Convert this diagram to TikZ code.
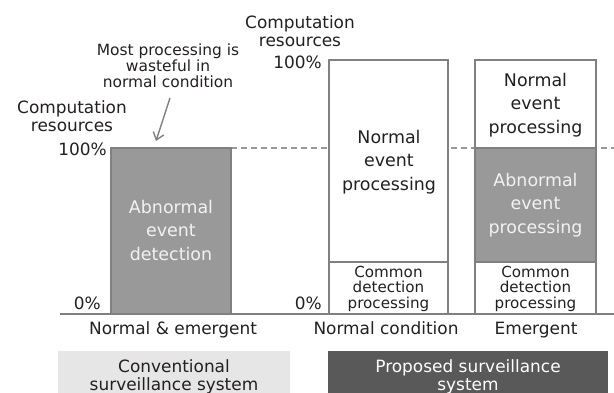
\documentclass[tikz,border=0pt]{standalone}
\usepackage{fontspec}
\setmainfont{DejaVu Sans}
\usetikzlibrary{arrows.meta}
\definecolor{barline}{HTML}{808080}
\definecolor{barfill}{HTML}{999999}
\definecolor{bartext}{HTML}{F2F2F2}
\definecolor{txt}{HTML}{231F20}
\definecolor{convfill}{HTML}{E6E6E6}
\definecolor{propfill}{HTML}{595959}
\definecolor{dashcol}{HTML}{999999}
\begin{document}
\begin{tikzpicture}[x=1bp,y=-1bp,
  lbl/.style={inner sep=0pt,anchor=base,align=center,text=txt,font=\fontsize{17}{18}\selectfont},
  small/.style={inner sep=0pt,anchor=base,align=center,text=txt,font=\fontsize{15.5}{16}\selectfont},
  intext/.style={inner sep=0pt,anchor=base,align=center,font=\fontsize{17.5}{23.5}\selectfont},
  common/.style={inner sep=0pt,anchor=base,align=center,text=txt,font=\fontsize{15.2}{15.5}\selectfont},
  barbox/.style={draw=barline,line width=2.2bp},
  dashline/.style={draw=dashcol,line width=1.3bp,dash pattern=on 6bp off 4bp},
  axis/.style={draw=barline,line width=2.5bp},
  pointer/.style={draw=barline,line width=1.4bp,-{Straight Barb[length=7bp,width=11bp]}}
]
\useasboundingbox (0,0) rectangle (614,392);

% dashed 100% reference line
\draw[dashline] (231,148) -- (614,148);

% conventional bar
\draw[barbox,fill=barfill] (111,148) rectangle (231,314);
% proposed, normal condition
\draw[barbox,fill=white] (329,60) rectangle (448,262);
\draw[barbox,fill=white] (329,262) rectangle (448,314);
% proposed, emergent
\draw[barbox,fill=white] (475,60) rectangle (596,148);
\draw[barbox,fill=barfill] (475,148) rectangle (596,262);
\draw[barbox,fill=white] (475,262) rectangle (596,314);

% axis
\draw[axis] (60,314) -- (614,314);

% left axis labels
\node[lbl] (cr1) at (72,131) {Computation\\resources};
\node[lbl,anchor=base east] (p100a) at (107,155) {100\%};
\node[lbl,anchor=base east] (p0a) at (101,309) {0\%};
% middle axis labels
\node[lbl] (cr2) at (300,46) {Computation\\resources};
\node[lbl,anchor=base east] (p100b) at (322,68) {100\%};
\node[lbl,anchor=base east] (p0b) at (322,309) {0\%};

% annotation
\node[small] (note) at (168,87) {Most processing is\\wasteful in\\normal condition};
\coordinate (arrS) at (170,98);
\coordinate (arrE) at (156,141);
\draw[pointer] (arrS) -- (arrE);

% bar texts
\node[intext,text=bartext] (abn1) at (171,260) {Abnormal\\event\\detection};
\node[intext,text=txt] (nep1) at (389,190) {Normal\\event\\processing};
\node[common] (cdp1) at (388.5,308) {Common\\detection\\processing};
\node[intext,text=txt] (nep2) at (535.5,133) {Normal\\event\\processing};
\node[intext,text=bartext] (aep2) at (535.5,233) {Abnormal\\event\\processing};
\node[common] (cdp2) at (535.5,308) {Common\\detection\\processing};

% condition labels
\node[lbl] (c1) at (173,334) {Normal \& emergent};
\node[lbl] (c2) at (386,334) {Normal condition};
\node[lbl] (c3) at (536,334) {Emergent};

% system boxes
\fill[convfill] (58,351) rectangle (290,400);
\fill[propfill] (328,351) rectangle (608,400);
\node[lbl] (conv) at (174,390) {Conventional\\surveillance system};
\node[lbl,text=white] (prop) at (468,390) {Proposed surveillance\\system};
\end{tikzpicture}
\end{document}
